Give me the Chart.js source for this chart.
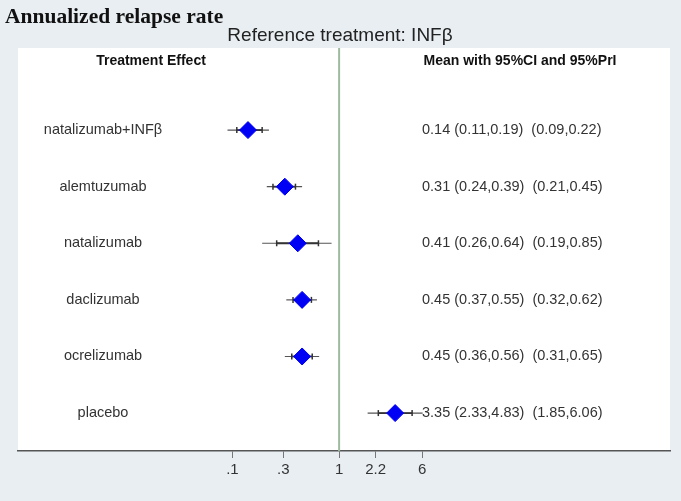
<!DOCTYPE html>
<html>
<head>
<meta charset="utf-8">
<script src="https://cdn.jsdelivr.net/npm/chart.js@4/dist/chart.umd.min.js"></script>
<style>
html,body{margin:0;padding:0;background:#e8eef2;}
canvas{display:block;}
</style>
</head>
<body>
<canvas id="c" width="681" height="501"></canvas>
<script>
const treatments = ['natalizumab+INFβ','alemtuzumab','natalizumab','daclizumab','ocrelizumab','placebo'];
const means   = [0.14, 0.31, 0.41, 0.45, 0.45, 3.35];
const ciLow   = [0.11, 0.24, 0.26, 0.37, 0.36, 2.33];
const ciHigh  = [0.19, 0.39, 0.64, 0.55, 0.56, 4.83];
const priLow  = [0.09, 0.21, 0.19, 0.32, 0.31, 1.85];
const priHigh = [0.22, 0.45, 0.85, 0.62, 0.65, 6.06];
const xTicks = [0.1, 0.3, 1, 2.2, 6];
const xTickLabels = ['.1', '.3', '1', '2.2', '6'];
const refValue = 1;

const Y_MIN = -0.45, Y_MAX = 6.67;
const fmt = v => v.toFixed(2);
const SANS = '"Liberation Sans", Arial, sans-serif';

const datasets = [];
datasets.push({
  type:'line', data:[{x:refValue,y:Y_MIN},{x:refValue,y:Y_MAX}],
  borderColor:'#9fbb9f', borderWidth:2, pointRadius:0, order:10
});
treatments.forEach((t,i)=>{
  datasets.push({
    type:'line', data:[{x:priLow[i],y:i+1},{x:priHigh[i],y:i+1}],
    borderColor:'#555', borderWidth:1.2, pointRadius:0, order:5
  });
  datasets.push({
    type:'line', data:[{x:ciLow[i],y:i+1},{x:ciHigh[i],y:i+1}],
    borderColor:'#333', borderWidth:1.8, pointRadius:0, order:4
  });
});
datasets.push({
  type:'scatter',
  data: treatments.flatMap((t,i)=>[{x:ciLow[i],y:i+1},{x:ciHigh[i],y:i+1}]),
  pointStyle:'line', rotation:90, radius:3, borderColor:'#333', borderWidth:1.5, order:3
});
datasets.push({
  type:'scatter',
  data: means.map((m,i)=>({x:m,y:i+1})),
  pointStyle:'rectRot', radius:8.5, backgroundColor:'#0000f5', borderColor:'#0000f5', order:1
});

const bgPlugin = {
  id:'bg',
  beforeDraw(chart){
    const {ctx, chartArea:a} = chart;
    ctx.save();
    ctx.fillStyle = '#e8eef2';
    ctx.fillRect(0,0,chart.width,chart.height);
    ctx.fillStyle = '#ffffff';
    ctx.fillRect(a.left, a.top, a.right-a.left, a.bottom-a.top);
    ctx.restore();
  }
};

const textPlugin = {
  id:'txt',
  afterDraw(chart){
    const {ctx, chartArea:a} = chart;
    const ys = chart.scales.y;
    ctx.save();
    ctx.fillStyle = '#111';
    ctx.textBaseline = 'alphabetic';
    ctx.textAlign = 'left';
    ctx.font = 'bold 21.5px "Liberation Serif", "DejaVu Serif", serif';
    ctx.fillText('Annualized relapse rate', 5, 23);
    ctx.textAlign = 'center';
    ctx.font = '19px ' + SANS;
    ctx.fillStyle = '#222';
    ctx.fillText('Reference treatment: INFβ', 340, 41);
    ctx.font = 'bold 14px ' + SANS;
    ctx.fillStyle = '#111';
    ctx.textBaseline = 'middle';
    ctx.fillText('Treatment Effect', 151, a.top + 13);
    ctx.fillText('Mean with 95%CI and 95%PrI', 520, a.top + 13);
    ctx.font = '14.5px ' + SANS;
    ctx.fillStyle = '#333';
    treatments.forEach((t,i)=>{
      const y = ys.getPixelForValue(i+1);
      ctx.textAlign = 'center';
      ctx.fillText(t, 103, y);
      ctx.textAlign = 'left';
      ctx.fillText(fmt(means[i])+' ('+fmt(ciLow[i])+','+fmt(ciHigh[i])+')  ('+fmt(priLow[i])+','+fmt(priHigh[i])+')', 422, y);
    });
    ctx.restore();
  }
};

new Chart(document.getElementById('c'), {
  type:'scatter',
  data:{datasets},
  plugins:[bgPlugin, textPlugin],
  options:{
    responsive:false, animation:false,
    layout:{padding:{left:18, right:11, top:48, bottom:19}},
    plugins:{legend:{display:false}, tooltip:{enabled:false}},
    scales:{
      x:{
        type:'logarithmic', min:0.00098, max:1260,
        afterBuildTicks(scale){ scale.ticks = xTicks.map(v=>({value:v})); },
        ticks:{
          autoSkip:false, maxRotation:0, padding:3,
          color:'#333', font:{size:15, family:SANS},
          callback:(v)=>{ const k = xTicks.indexOf(v); return k>=0 ? xTickLabels[k] : ''; }
        },
        grid:{drawOnChartArea:false, drawTicks:true, tickLength:7, color:'#777'},
        border:{display:true, color:'#555', width:1.5}
      },
      y:{
        type:'linear', min:Y_MIN, max:Y_MAX, reverse:true, display:false
      }
    }
  }
});
</script>
</body>
</html>
